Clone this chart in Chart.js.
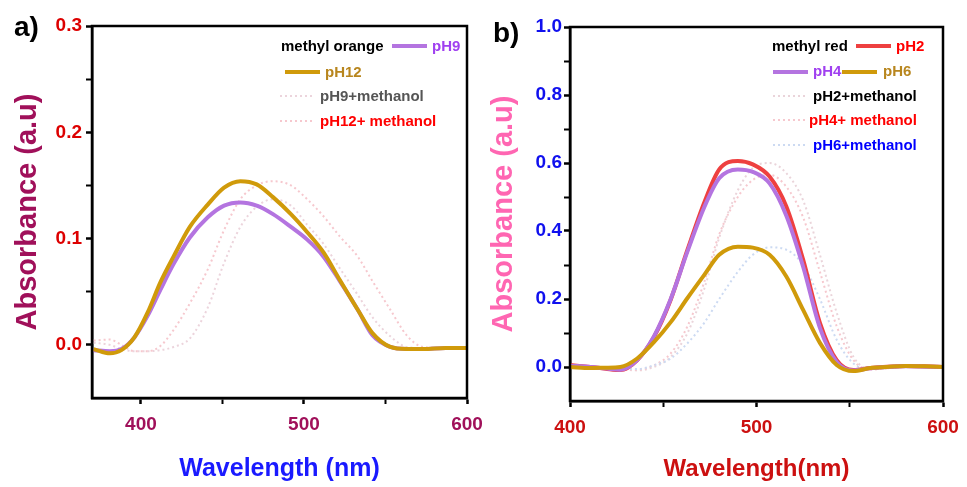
<!DOCTYPE html>
<html>
<head>
<meta charset="utf-8">
<script src="https://cdn.jsdelivr.net/npm/chart.js@4"></script>
<style>
  html, body { margin: 0; padding: 0; background: #fff; }
  #wrap { position: relative; width: 967px; height: 487px; overflow: hidden; }
  canvas { position: absolute; top: 0; }
  #graficoA { left: 0; }
  #graficoB { left: 480px; }
  .panel { position: absolute; font: bold 28px "Liberation Sans", Arial, sans-serif; line-height: 1; color: #000; }
</style>
</head>
<body>
<div id="wrap">
  <canvas id="graficoA" width="490" height="487"></canvas>
  <canvas id="graficoB" width="487" height="487"></canvas>
  <div class="panel" style="left:14px;top:13px">a)</div>
  <div class="panel" style="left:493px;top:19px">b)</div>
</div>
<script>
const FONT = '"Liberation Sans", Arial, sans-serif';

// === a) methyl orange ===
const wlA = [371, 381, 388, 396, 404, 412, 420, 430, 441, 451, 461, 471, 481, 492, 502, 512, 522, 533, 542, 553, 563, 573, 587, 600];
const moPH9 = [-0.005, -0.006, -0.004, 0.007, 0.027, 0.052, 0.076, 0.101, 0.120, 0.131, 0.134, 0.131, 0.123, 0.111, 0.099, 0.083, 0.060, 0.033, 0.009, -0.002, -0.004, -0.004, -0.003, -0.003];
const moPH12 = [-0.004, -0.008, -0.005, 0.007, 0.030, 0.059, 0.083, 0.111, 0.132, 0.148, 0.154, 0.151, 0.139, 0.123, 0.106, 0.087, 0.061, 0.033, 0.011, -0.002, -0.004, -0.004, -0.003, -0.003];
const moPH9Met = [0.002, 0.000, -0.004, -0.006, -0.006, -0.005, -0.002, 0.006, 0.035, 0.077, 0.111, 0.130, 0.137, 0.131, 0.113, 0.095, 0.072, 0.047, 0.026, 0.008, -0.002, -0.003, -0.003, -0.003];
const moPH12Met = [0.004, 0.005, 0.000, -0.006, -0.006, -0.001, 0.014, 0.039, 0.071, 0.108, 0.137, 0.150, 0.154, 0.150, 0.137, 0.121, 0.102, 0.083, 0.060, 0.033, 0.009, -0.002, -0.003, -0.002];
const xTicksA = [400, 450, 500, 550, 600];
const xLabelsA = ['400', '', '500', '', '600'];
const yTicksA = [0, 0.05, 0.1, 0.15, 0.2, 0.25, 0.3];
const yLabelsA = ['0.0', '', '0.1', '', '0.2', '', '0.3'];

// === b) methyl red ===
const wlB = [400, 411, 419, 427, 436, 445, 454, 463, 472, 480, 490, 498, 507, 516, 525, 534, 543, 552, 561, 570, 580, 590, 600];
const mrPH2 = [0.006, 0.000, -0.005, -0.009, 0.020, 0.088, 0.198, 0.345, 0.484, 0.581, 0.606, 0.596, 0.560, 0.472, 0.316, 0.130, 0.020, -0.009, -0.003, 0.001, 0.003, 0.002, 0.000];
const mrPH4 = [0.004, 0.000, -0.004, -0.008, 0.020, 0.090, 0.200, 0.340, 0.470, 0.555, 0.581, 0.574, 0.540, 0.445, 0.295, 0.115, 0.015, -0.010, -0.004, 0.000, 0.002, 0.001, 0.000];
const mrPH6 = [0.000, -0.003, -0.002, 0.000, 0.025, 0.073, 0.132, 0.203, 0.271, 0.330, 0.354, 0.351, 0.330, 0.266, 0.168, 0.071, 0.006, -0.012, -0.003, 0.000, 0.003, 0.002, 0.000];
const mrPH2Met = [0.000, 0.000, -0.003, -0.006, -0.010, 0.000, 0.030, 0.100, 0.230, 0.380, 0.520, 0.585, 0.600, 0.570, 0.490, 0.330, 0.160, 0.030, -0.005, -0.004, 0.000, 0.000, 0.000];
const mrPH4Met = [0.000, 0.000, -0.003, -0.005, -0.008, 0.005, 0.040, 0.120, 0.250, 0.390, 0.500, 0.550, 0.565, 0.530, 0.440, 0.280, 0.120, 0.020, -0.008, -0.004, 0.000, 0.000, 0.000];
const mrPH6Met = [0.000, 0.000, -0.002, -0.005, -0.006, 0.005, 0.025, 0.070, 0.130, 0.200, 0.280, 0.330, 0.352, 0.345, 0.300, 0.200, 0.080, 0.010, -0.006, -0.003, 0.000, 0.000, 0.000];
const xTicksB = [400, 450, 500, 550, 600];
const xLabelsB = ['400', '', '500', '', '600'];
const yTicksB = [0, 0.1, 0.2, 0.3, 0.4, 0.5, 0.6, 0.7, 0.8, 0.9, 1.0];
const yLabelsB = ['0.0', '', '0.2', '', '0.4', '', '0.6', '', '0.8', '', '1.0'];

const puntos = (xs, ys) => xs.map((x, i) => ({ x, y: ys[i] }));

function serie(xs, ys, color, orden, punteada) {
  return {
    data: puntos(xs, ys),
    borderColor: color,
    borderWidth: punteada ? 2 : 4,
    borderDash: punteada ? [2, 3] : [],
    order: orden,
    fill: false
  };
}

// marco negro alrededor del área del gráfico
const marco = {
  id: 'marco',
  afterDraw(chart) {
    const { ctx, chartArea: a } = chart;
    ctx.save();
    ctx.strokeStyle = '#000';
    ctx.lineWidth = 2.5;
    ctx.strokeRect(a.left, a.top, a.right - a.left, a.bottom - a.top);
    ctx.restore();
  }
};

// leyenda dibujada a mano (la distribución del original no es una lista simple)
function leyenda(items) {
  return {
    id: 'leyenda',
    afterDraw(chart) {
      const ctx = chart.ctx;
      ctx.save();
      ctx.font = `bold 15px ${FONT}`;
      ctx.textBaseline = 'middle';
      ctx.textAlign = 'left';
      items.forEach(it => {
        if (it.ds !== undefined) {
          const ds = chart.data.datasets[it.ds];
          ctx.strokeStyle = ds.borderColor;
          ctx.lineWidth = ds.borderWidth;
          ctx.setLineDash(ds.borderDash);
          ctx.beginPath();
          ctx.moveTo(it.x, it.y);
          ctx.lineTo(it.x + 35, it.y);
          ctx.stroke();
        } else {
          ctx.setLineDash([]);
          ctx.fillStyle = it.color;
          ctx.fillText(it.text, it.x, it.y);
        }
      });
      ctx.restore();
    }
  };
}

function crearGrafico(canvas, p) {
  const fuenteTick = { family: FONT, size: 19, weight: 'bold' };
  return new Chart(canvas, {
    type: 'line',
    data: { datasets: p.datasets },
    options: {
      responsive: false,
      animation: false,
      layout: { padding: { top: p.top, right: p.right, left: 0, bottom: 0 } },
      elements: { point: { radius: 0 }, line: { cubicInterpolationMode: 'monotone' } },
      plugins: { legend: { display: false }, tooltip: { enabled: false } },
      scales: {
        x: {
          type: 'linear', min: p.xMin, max: p.xMax,
          afterBuildTicks: s => { s.ticks = p.xTicks.map(v => ({ value: v })); },
          afterFit: s => { s.height = p.xHeight; s.paddingLeft = 0; s.paddingRight = 0; },
          ticks: { callback: (v, i) => p.xLabels[i], color: p.xTickColor, font: fuenteTick, padding: 9, maxRotation: 0, autoSkip: false },
          grid: { drawOnChartArea: false, tickLength: 6, tickColor: '#000', tickWidth: c => p.xLabels[c.index] ? 2.5 : 2 },
          border: { color: '#000', width: 2.5 },
          title: { display: true, text: p.xTitle, color: p.xTitleColor, font: { family: FONT, size: p.xTitleSize, weight: 'bold' }, padding: { top: 0, bottom: 3 } }
        },
        y: {
          min: p.yMin, max: p.yMax,
          afterBuildTicks: s => { s.ticks = p.yTicks.map(v => ({ value: v })); },
          afterFit: s => { s.width = p.yWidth; s.paddingTop = 0; s.paddingBottom = 0; },
          ticks: { callback: (v, i) => p.yLabels[i], color: p.yTickColor, font: fuenteTick, padding: p.yPad, autoSkip: false },
          grid: { drawOnChartArea: false, tickLength: 6, tickColor: '#000', tickWidth: c => p.yLabels[c.index] ? 2.5 : 2 },
          border: { color: '#000', width: 2.5 },
          title: { display: true, text: 'Absorbance (a.u)', color: p.yTitleColor, font: { family: FONT, size: 29, weight: 'bold' }, padding: { top: p.yTitlePad, bottom: 0 } }
        }
      }
    },
    plugins: [marco, leyenda(p.legend)]
  });
}

// === Gráfico a) ===
crearGrafico(document.getElementById('graficoA'), {
  datasets: [
    serie(wlA, moPH9, '#b474e0', 2, false),
    serie(wlA, moPH12, '#d09a0a', 1, false),
    serie(wlA, moPH9Met, '#ecd4dc', 4, true),
    serie(wlA, moPH12Met, '#f6c8ce', 3, true)
  ],
  top: 26, right: 23, xHeight: 89, yWidth: 92, yPad: 4, yTitlePad: 11,
  xMin: 370, xMax: 600, xTicks: xTicksA, xLabels: xLabelsA,
  yMin: -0.05, yMax: 0.3, yTicks: yTicksA, yLabels: yLabelsA,
  xTickColor: '#a0105a', yTickColor: '#dd0000',
  xTitle: 'Wavelength (nm)', xTitleColor: '#1a1aff', xTitleSize: 25,
  yTitleColor: '#a0105a',
  legend: [
    { text: 'methyl orange', color: '#000', x: 281, y: 47 },
    { ds: 0, x: 392, y: 46 },
    { text: 'pH9', color: '#a040f0', x: 432, y: 47 },
    { ds: 1, x: 285, y: 72 },
    { text: 'pH12', color: '#b8861e', x: 325, y: 73 },
    { ds: 2, x: 280, y: 96 },
    { text: 'pH9+methanol', color: '#555', x: 320, y: 97 },
    { ds: 3, x: 280, y: 121 },
    { text: 'pH12+ methanol', color: '#ff0000', x: 320, y: 122 }
  ]
});

// === Gráfico b) ===
crearGrafico(document.getElementById('graficoB'), {
  datasets: [
    serie(wlB, mrPH2, '#ee4040', 3, false),
    serie(wlB, mrPH4, '#b474e0', 2, false),
    serie(wlB, mrPH6, '#d09a0a', 1, false),
    serie(wlB, mrPH2Met, '#ead4da', 6, true),
    serie(wlB, mrPH4Met, '#f6c8ce', 5, true),
    serie(wlB, mrPH6Met, '#ccdaf2', 4, true)
  ],
  top: 27, right: 24, xHeight: 86, yWidth: 90, yPad: 2, yTitlePad: 7,
  xMin: 400, xMax: 600, xTicks: xTicksB, xLabels: xLabelsB,
  yMin: -0.1, yMax: 1.0, yTicks: yTicksB, yLabels: yLabelsB,
  xTickColor: '#cc1010', yTickColor: '#1010ee',
  xTitle: 'Wavelength(nm)', xTitleColor: '#cc1010', xTitleSize: 24,
  yTitleColor: '#ff66b2',
  legend: [
    { text: 'methyl red', color: '#000', x: 292, y: 47 },
    { ds: 0, x: 376, y: 46 },
    { text: 'pH2', color: '#ff0000', x: 416, y: 47 },
    { ds: 1, x: 293, y: 72 },
    { text: 'pH4', color: '#a040f0', x: 333, y: 72 },
    { ds: 2, x: 362, y: 72 },
    { text: 'pH6', color: '#b8861e', x: 403, y: 72 },
    { ds: 3, x: 293, y: 96 },
    { text: 'pH2+methanol', color: '#000', x: 333, y: 97 },
    { ds: 4, x: 293, y: 120 },
    { text: 'pH4+ methanol', color: '#ff0000', x: 329, y: 121 },
    { ds: 5, x: 293, y: 145 },
    { text: 'pH6+methanol', color: '#0000ff', x: 333, y: 146 }
  ]
});
</script>
</body>
</html>
